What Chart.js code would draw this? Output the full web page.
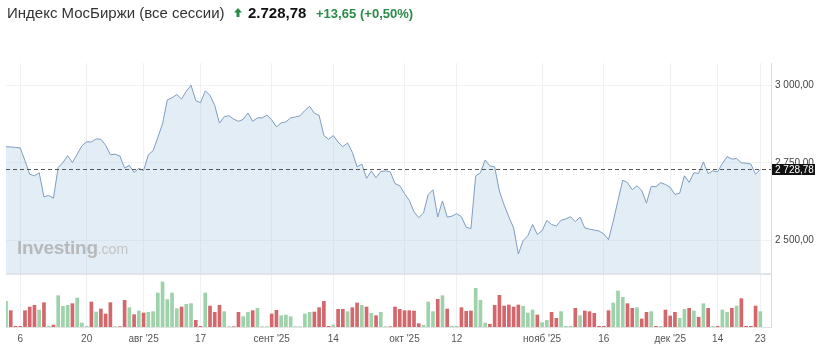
<!DOCTYPE html>
<html>
<head>
<meta charset="utf-8">
<script src="https://cdn.jsdelivr.net/npm/chart.js@4.4.1/dist/chart.umd.min.js"></script>
<style>
  html, body { margin: 0; padding: 0; background: #fff; }
  body { width: 823px; height: 345px; position: relative; overflow: hidden; font-family: "Liberation Sans", Arial, sans-serif; }
  #chart { position: absolute; left: 0; top: 0; }
  .hd { position: absolute; top: 4px; font-size: 15px; line-height: 18px; white-space: nowrap; }
  #name { left: 7px; color: #333; }
  #arrow { position: absolute; left: 234px; top: 8px; }
  #last { left: 248px; color: #111; font-weight: bold; }
  #chg { left: 316px; color: #2a8a48; font-weight: bold; font-size: 13px; top: 5px; }
  #pct { left: 360px; color: #2a8a48; font-weight: bold; font-size: 13px; top: 5px; }
  #wm { position: absolute; left: 17px; top: 238px; color: #b9b9b9; white-space: nowrap; line-height: 19px; }
  #wm b { font-size: 19px; letter-spacing: -0.3px; }
  #wm span { font-size: 14px; color: #c4c4c4; }
</style>
</head>
<body>
<canvas id="chart" width="823" height="345"></canvas>
<div class="hd" id="name">Индекс МосБиржи (все сессии)</div>
<svg id="arrow" width="8" height="9" viewBox="0 0 8 9"><polygon points="4,0 8,4.5 5.5,4.5 5.5,9 2.5,9 2.5,4.5 0,4.5" fill="#2a8a48"/></svg>
<div class="hd" id="last">2.728,78</div>
<div class="hd" id="chg">+13,65</div>
<div class="hd" id="pct">(+0,50%)</div>
<div id="wm"><b>Investing</b><span>.com</span></div>
<script>
  // daily closes, 3 Jul - 23 Dec 2025 (incl. weekend sessions)
  const prices = [
    2802, 2801, 2800, 2798, 2757, 2713, 2708, 2718, 2640, 2645,
    2636, 2735, 2751, 2773, 2751, 2778, 2805, 2818, 2817, 2827,
    2826, 2807, 2776, 2778, 2772, 2733, 2742, 2719, 2732, 2725,
    2776, 2789, 2832, 2876, 2953, 2960, 2970, 2956, 2981, 3000,
    2951, 2944, 2982, 2968, 2935, 2878, 2899, 2902, 2891, 2884,
    2890, 2911, 2884, 2895, 2895, 2904, 2889, 2866, 2879, 2882,
    2895, 2898, 2902, 2919, 2932, 2910, 2903, 2838, 2826, 2838,
    2817, 2802, 2814, 2784, 2737, 2746, 2700, 2724, 2702, 2722,
    2724, 2721, 2683, 2676, 2651, 2629, 2592, 2573, 2588, 2648,
    2663, 2575, 2627, 2575, 2578, 2586, 2576, 2542, 2538, 2708,
    2718, 2759, 2740, 2737, 2659, 2614, 2575, 2540, 2456, 2499,
    2515, 2551, 2519, 2531, 2564, 2551, 2546, 2565, 2569, 2576,
    2560, 2575, 2540, 2536, 2533, 2530, 2521, 2502, 2562, 2629,
    2694, 2686, 2663, 2676, 2661, 2620, 2674, 2673, 2686, 2680,
    2671, 2648, 2652, 2708, 2687, 2718, 2716, 2753, 2715, 2724,
    2721, 2748, 2770, 2762, 2764, 2750, 2749, 2746, 2713, 2728.78
  ];

  // volume, relative units
  const volumes = [
    77, 49, 2, 2, 49, 60, 65, 51, 73, 2,
    6, 94, 62, 65, 70, 87, 12, 2, 75, 45,
    54, 39, 73, 1, 1, 80, 58, 37, 48, 42,
    44, 46, 102, 135, 82, 102, 55, 60, 68, 70,
    20, 2, 102, 63, 44, 65, 46, 1, 1, 44,
    31, 44, 49, 56, 1, 1, 39, 50, 34, 36,
    31, 1, 1, 39, 44, 45, 58, 77, 2, 6,
    53, 53, 46, 58, 72, 65, 60, 41, 34, 44,
    1, 1, 60, 53, 49, 49, 48, 10, 5, 75,
    46, 83, 94, 54, 2, 2, 58, 47, 48, 116,
    80, 12, 8, 65, 95, 63, 66, 60, 66, 62,
    42, 51, 36, 13, 20, 44, 26, 46, 2, 2,
    56, 34, 48, 46, 41, 2, 2, 49, 72, 108,
    89, 70, 56, 58, 24, 44, 46, 2, 2, 51,
    33, 44, 26, 53, 56, 48, 29, 70, 56, 2,
    2, 51, 44, 56, 63, 85, 2, 2, 63, 46
  ];

  const tickIdx = [3, 17, 29, 41, 56, 69, 84, 95, 113, 126, 140, 150, 159];
  const tickText = ["6", "20", "авг '25", "17", "сент '25", "14", "окт '25", "12", "нояб '25", "16", "дек '25", "14", "23"];
  const priceTicks = [2500, 2750, 3000];
  const lastPrice = 2728.78;

  const FILL_BASE = 2394.5;

  const fmt = (v) => {
    const [i, d] = v.toFixed(2).split(".");
    return i.replace(/\B(?=(\d{3})+(?!\d))/g, " ") + "," + d;
  };

  const barColors = prices.map((p, i) => (i === 0 || p >= prices[i - 1]) ? "#9dd2aa" : "#d3676c");

  //dashed last-price line, its label and the panel separator
  const priceMarker = {
    id: "priceMarker",
    afterDraw(chart) {
      const { ctx, chartArea: a, scales: { y } } = chart;
      const base = Math.round(y.getPixelForValue(FILL_BASE));
      ctx.save();
      ctx.fillStyle = "#e0e4e9";
      ctx.fillRect(a.left, base, a.right - a.left, 2);

      const py = Math.round(y.getPixelForValue(lastPrice)) + 0.5;
      ctx.strokeStyle = "#555";
      ctx.lineWidth = 1;
      ctx.setLineDash([4, 3]);
      ctx.beginPath();
      ctx.moveTo(a.left, py);
      ctx.lineTo(a.right, py);
      ctx.stroke();
      ctx.setLineDash([]);

      ctx.fillStyle = "#111";
      ctx.fillRect(a.right + 1, py - 5.5, 43, 11);
      ctx.fillStyle = "#fff";
      ctx.font = "10px 'Liberation Sans', Arial, sans-serif";
      ctx.textBaseline = "middle";
      ctx.fillText(fmt(lastPrice), a.right + 4, py + 0.5);
      ctx.restore();
    }
  };

  window.addEventListener("load", () => {
    const ctx = document.getElementById("chart");

    new Chart(ctx, {
      data: {
        datasets: [
          {
            type: "line",
            data: prices.map((p, i) => ({ x: i, y: p })),
            yAxisID: "y",
            borderColor: "#7d9dc1",
            borderWidth: 1,
            pointRadius: 0,
            tension: 0,
            fill: { value: FILL_BASE },
            backgroundColor: "rgba(175,203,230,0.35)",
            order: 1,
          },
          {
            type: "bar",
            data: volumes.map((v, i) => ({ x: i, y: v })),
            yAxisID: "v",
            backgroundColor: barColors,
            barThickness: 3,
            order: 2,
          },
        ],
      },
      options: {
        responsive: false,
        animation: false,
        layout: { padding: { left: 6, top: 63, right: 0, bottom: 0 } },
        plugins: { legend: { display: false }, tooltip: { enabled: false } },
        scales: {
          x: {
            type: "linear",
            min: 0,
            max: 161.25,
            offset: false,
            afterBuildTicks: (s) => { s.ticks = tickIdx.map((v) => ({ value: v })); },
            afterFit: (s) => { s.height = 18; },
            grid: { color: "#eef0f3", drawTicks: false, offset: false },
            border: { color: "#e2e2e2" },
            ticks: {
              autoSkip: false,
              maxRotation: 0,
              padding: 6,
              color: "#555",
              font: { size: 10, family: "'Liberation Sans', Arial, sans-serif" },
              callback: (v) => tickText[tickIdx.indexOf(v)],
            },
          },
          y: {
            position: "right",
            min: 2220.4,
            max: 3072,
            afterBuildTicks: (s) => { s.ticks = priceTicks.map((v) => ({ value: v })); },
            afterFit: (s) => { s.width = 52; },
            grid: { color: "#f0f1f3", drawTicks: false },
            border: { color: "#dcdcdc" },
            ticks: {
              padding: 4,
              color: "#444",
              font: { size: 10, family: "'Liberation Sans', Arial, sans-serif" },
              callback: (v) => fmt(v),
            },
          },
          v: { display: false, min: 0, max: 792 },
        },
      },
      plugins: [priceMarker],
    });
  });
</script>
</body>
</html>
